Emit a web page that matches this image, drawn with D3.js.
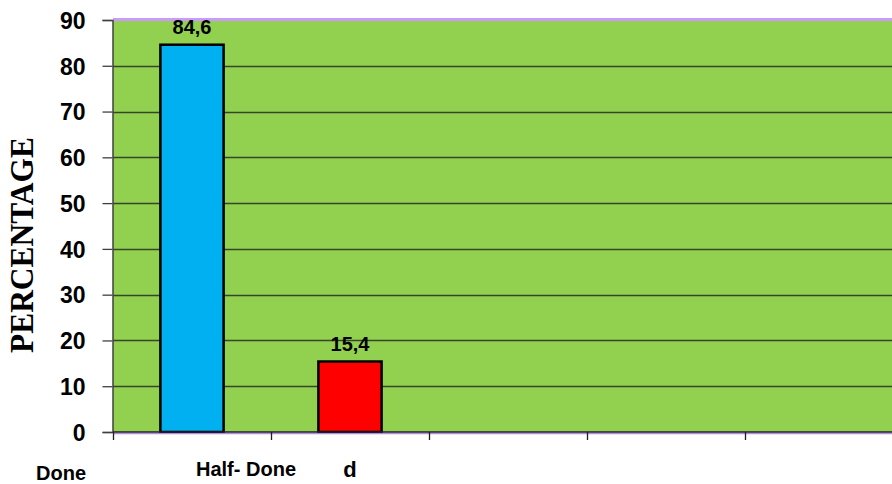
<!DOCTYPE html>
<html>
<head>
<meta charset="utf-8">
<script src="https://cdn.jsdelivr.net/npm/d3@7"></script>
<style>
  html, body { margin: 0; padding: 0; background: #ffffff; }
  svg { display: block; }
</style>
</head>
<body>
<svg id="chart" width="892" height="484"></svg>
<script>
// Completion status, in percent
const categories = ["Done", "Half- Done", "s3", "s4", "s5"];
const values = [84.6, 15.4];
const valueLabels = ["84,6", "15,4"];
const barColors = ["#00b0f0", "#ff0000"];
const yTicks = [0, 10, 20, 30, 40, 50, 60, 70, 80, 90];
const axisLabels = ["Done", "Half- Done", "d"];
const yTitle = "PERCENTAGE";

const svg = d3.select("#chart");
const W = 892, H = 484;
const plot = { left: 113, top: 20, right: 903, bottom: 432 };
const sans = "'Liberation Sans', Arial, sans-serif";

const x = d3.scaleBand()
  .domain(categories)
  .range([plot.left, plot.right])
  .paddingInner(0)
  .paddingOuter(0);

const y = d3.scaleLinear()
  .domain([0, 90])
  .range([plot.bottom, plot.top]);

// plot background
svg.append("rect")
  .attr("x", plot.left).attr("y", plot.top)
  .attr("width", plot.right - plot.left)
  .attr("height", plot.bottom - plot.top)
  .attr("fill", "#92d050");

// horizontal gridlines
svg.append("g")
  .selectAll("line")
  .data(yTicks.filter(t => t > 0 && t < 90))
  .join("line")
  .attr("x1", plot.left).attr("x2", W)
  .attr("y1", d => Math.round(y(d)) + 0.5)
  .attr("y2", d => Math.round(y(d)) + 0.5)
  .attr("stroke", "#35452a")
  .attr("stroke-width", 1.4);

// top border
svg.append("line")
  .attr("x1", plot.left).attr("x2", W)
  .attr("y1", plot.top - 0.5).attr("y2", plot.top - 0.5)
  .attr("stroke", "#cc99ff").attr("stroke-width", 3);

// bars
svg.append("g")
  .selectAll("rect")
  .data(values)
  .join("rect")
  .attr("x", (d, i) => x(categories[i]) + x.bandwidth() * 0.3)
  .attr("width", x.bandwidth() * 0.4)
  .attr("y", d => y(d))
  .attr("height", d => y(0) - y(d))
  .attr("fill", (d, i) => barColors[i])
  .attr("stroke", "#000")
  .attr("stroke-width", 2.5);

// value labels
svg.append("g")
  .selectAll("text")
  .data(values)
  .join("text")
  .attr("x", (d, i) => x(categories[i]) + x.bandwidth() / 2)
  .attr("y", d => y(d) - 11)
  .attr("text-anchor", "middle")
  .attr("font-family", sans)
  .attr("font-weight", 700)
  .attr("font-size", 20)
  .attr("fill", "#000")
  .text((d, i) => valueLabels[i]);

// y axis
const yAxis = d3.axisLeft(y)
  .tickValues(yTicks)
  .tickSize(10)
  .tickPadding(17)
  .tickFormat(d3.format("d"));
const gy = svg.append("g")
  .attr("transform", `translate(${plot.left - 0.5},0)`)
  .call(yAxis);
gy.select(".domain").attr("stroke", "#404040").attr("stroke-width", 1.5);
gy.selectAll(".tick line").attr("stroke", "#404040").attr("stroke-width", 1.3);
gy.selectAll(".tick text")
  .attr("font-family", sans)
  .attr("font-weight", 700)
  .attr("font-size", 23)
  .attr("dy", "0.36em")
  .attr("fill", "#000");

// x axis baseline with purple edge
svg.append("line")
  .attr("x1", plot.left).attr("x2", W)
  .attr("y1", plot.bottom + 1.5).attr("y2", plot.bottom + 1.5)
  .attr("stroke", "#b48ae6").attr("stroke-width", 1.5);
svg.append("line")
  .attr("x1", plot.left).attr("x2", W)
  .attr("y1", plot.bottom).attr("y2", plot.bottom)
  .attr("stroke", "#202020").attr("stroke-width", 1.5);

// x axis category ticks at band edges
svg.append("g")
  .selectAll("line")
  .data(categories)
  .join("line")
  .attr("x1", d => Math.round(x(d)) + 0.5)
  .attr("x2", d => Math.round(x(d)) + 0.5)
  .attr("y1", plot.bottom)
  .attr("y2", plot.bottom + 8)
  .attr("stroke", "#202020")
  .attr("stroke-width", 1.3);

// category labels under the axis
const labelLayout = [
  { band: 0, dx: -131, y: 480, size: 20 },
  { band: 0, dx: 54, y: 476, size: 20 },
  { band: 1, dx: 0, y: 477, size: 22 }
];
svg.append("g")
  .selectAll("text")
  .data(axisLabels)
  .join("text")
  .attr("x", (d, i) => x(categories[labelLayout[i].band]) + x.bandwidth() / 2 + labelLayout[i].dx)
  .attr("y", (d, i) => labelLayout[i].y)
  .attr("text-anchor", "middle")
  .attr("font-family", sans)
  .attr("font-weight", 700)
  .attr("font-size", (d, i) => labelLayout[i].size)
  .attr("fill", "#000")
  .text(d => d);

// y axis title
svg.append("text")
  .attr("transform", "translate(33,245) rotate(-90)")
  .attr("text-anchor", "middle")
  .attr("font-family", "'Liberation Serif', 'Times New Roman', serif")
  .attr("font-weight", 700)
  .attr("font-size", 34)
  .attr("textLength", 216)
  .attr("lengthAdjust", "spacingAndGlyphs")
  .attr("fill", "#000")
  .text(yTitle);
</script>
</body>
</html>
